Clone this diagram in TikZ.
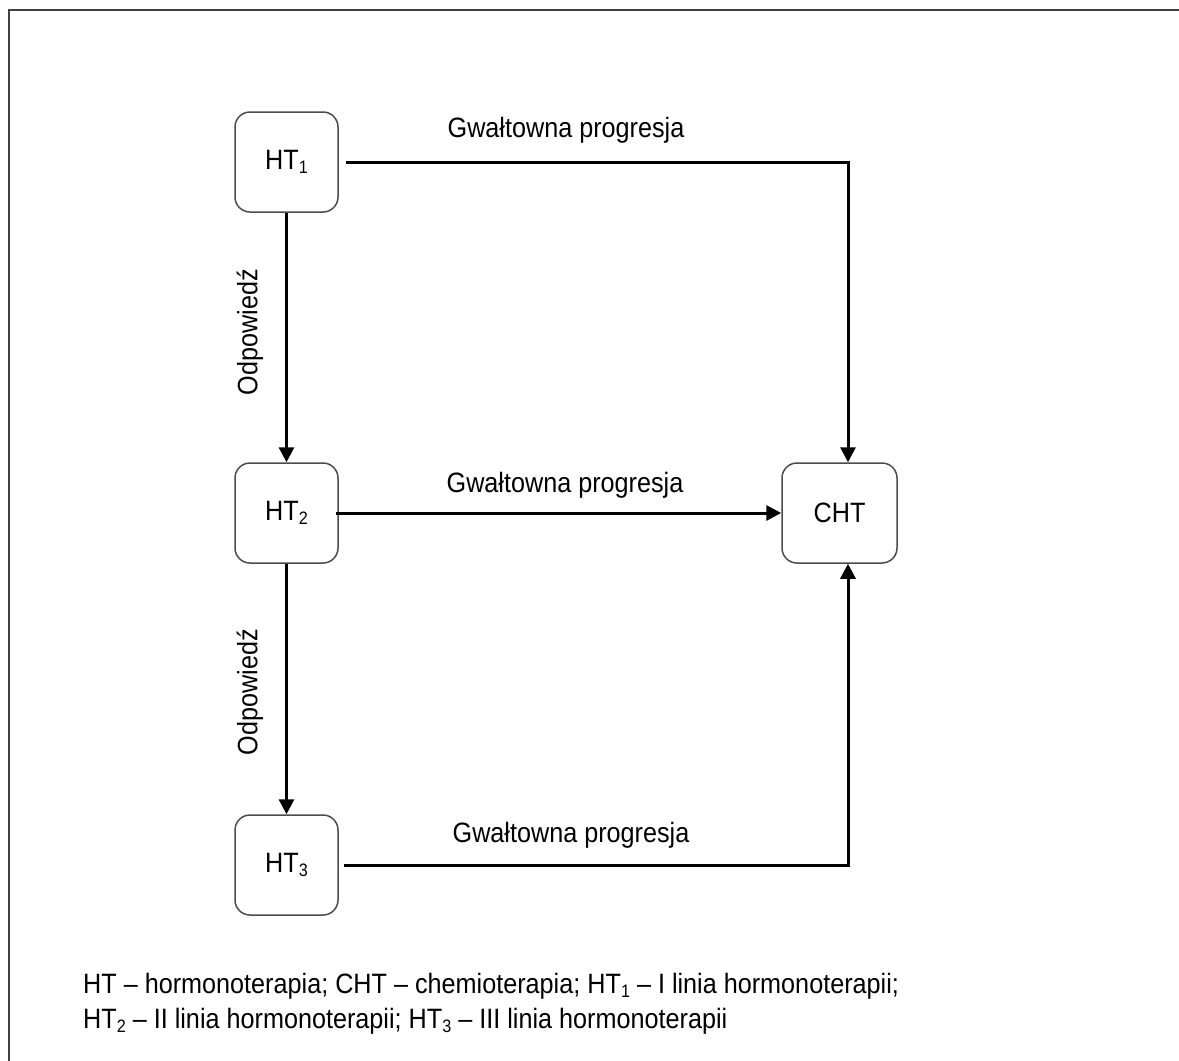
\documentclass[tikz,border=0pt]{standalone}
\usepackage{fontspec}
\setmainfont{Liberation Sans}[FakeStretch=0.9]
\usetikzlibrary{arrows.meta}
\newcommand\lowidx[1]{\raisebox{-0.3ex}{\fontsize{18}{18}\selectfont #1}}
\begin{document}
\begin{tikzpicture}[x=1pt,y=-1pt,
  every node/.style={font=\fontsize{28}{33}\selectfont, text=black},
  box/.style={draw=black!70, line width=1.5pt, rounded corners=15pt,
    minimum width=103pt, minimum height=100pt, inner sep=0pt},
  conn/.style={line width=3pt, draw=black,
    -{Triangle[length=15pt,width=15pt]}},
  frameline/.style={line width=2.2pt, draw=black!75},
  lbl/.style={inner sep=0pt}]
\useasboundingbox (0,0) rectangle (1179,1061);
% outer frame (left and top edges only)
\draw[frameline] (9,1061) -- (9,10) -- (1179,10);

% treatment lines
\node[box] (ht1) at (286.5,162) {HT\lowidx{1}};
\node[box] (ht2) at (286.5,513) {HT\lowidx{2}};
\node[box] (ht3) at (286.5,865) {HT\lowidx{3}};
\node[box, minimum width=115pt] (cht) at (839.5,513) {CHT};

% connectors
\draw[conn] ([xshift=7pt]ht1.east) -| ([xshift=8.5pt]cht.north);
\draw[conn] ([xshift=-3pt]ht2.east) -- (cht.west);
\draw[conn] ([xshift=5pt]ht3.east) -| ([xshift=8.5pt]cht.south);
\draw[conn] (ht1.south) -- (ht2.north);
\draw[conn] (ht2.south) -- (ht3.north);

% connector labels
\node[lbl] (g1) at (566,130) {Gwałtowna progresja};
\node[lbl] (g2) at (565,485) {Gwałtowna progresja};
\node[lbl] (g3) at (571,835) {Gwałtowna progresja};
\node[lbl, rotate=90] (o1) at (250,332) {Odpowiedź};
\node[lbl, rotate=90] (o2) at (250,692) {Odpowiedź};

% legend
\node[lbl, anchor=west] (leg1) at (83,986)
  {HT – hormonoterapia; CHT – chemioterapia; HT\lowidx{1} – I linia hormonoterapii;};
\node[lbl, anchor=west] (leg2) at (83,1021)
  {HT\lowidx{2} – II linia hormonoterapii; HT\lowidx{3} – III linia hormonoterapii};
\end{tikzpicture}
\end{document}
